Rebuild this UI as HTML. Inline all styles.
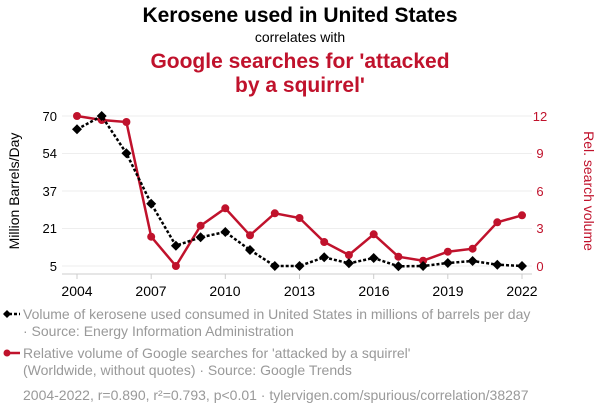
<!DOCTYPE html>
<html><head><style>
body{margin:0;width:600px;height:414px;background:#fff;font-family:"Liberation Sans",sans-serif;overflow:hidden}
</style></head><body>
<svg width="600" height="414" xmlns="http://www.w3.org/2000/svg" font-family="Liberation Sans, sans-serif">
<text x="300" y="22" text-anchor="middle" font-size="21" font-weight="bold" fill="#000">Kerosene used in United States</text>
<text x="300" y="42" text-anchor="middle" font-size="14" fill="#000">correlates with</text>
<text x="300" y="68" text-anchor="middle" font-size="21" font-weight="bold" fill="#c0122c">Google searches for 'attacked</text>
<text x="300" y="92" text-anchor="middle" font-size="21" font-weight="bold" fill="#c0122c">by a squirrel'</text>
<g stroke="#eee" stroke-width="1">
<line x1="62" x2="532" y1="116" y2="116"/><line x1="62" x2="532" y1="153.5" y2="153.5"/><line x1="62" x2="532" y1="191" y2="191"/><line x1="62" x2="532" y1="228.5" y2="228.5"/><line x1="62" x2="532" y1="266" y2="266"/>
</g>
<line x1="62" x2="532" y1="274" y2="274" stroke="#ccc"/>
<g stroke="#ccc"><line x1="77" x2="77" y1="274" y2="279"/><line x1="151.2" x2="151.2" y1="274" y2="279"/><line x1="225.3" x2="225.3" y1="274" y2="279"/><line x1="299.5" x2="299.5" y1="274" y2="279"/><line x1="373.7" x2="373.7" y1="274" y2="279"/><line x1="447.8" x2="447.8" y1="274" y2="279"/><line x1="522" x2="522" y1="274" y2="279"/></g>
<g font-size="14" text-anchor="middle" fill="#000"><text x="77" y="296">2004</text><text x="151" y="296">2007</text><text x="225" y="296">2010</text><text x="299.5" y="296">2013</text><text x="374" y="296">2016</text><text x="448" y="296">2019</text><text x="522" y="296">2022</text></g>
<g font-size="13" text-anchor="end" fill="#000"><text x="57" y="121">70</text><text x="57" y="158">54</text><text x="57" y="196">37</text><text x="57" y="233">21</text><text x="57" y="271">5</text></g>
<g font-size="13" text-anchor="middle" fill="#c0122c"><text x="540" y="121">12</text><text x="540" y="158">9</text><text x="540" y="196">6</text><text x="540" y="233">3</text><text x="540" y="271">0</text></g>
<text transform="translate(19,191) rotate(-90)" text-anchor="middle" font-size="14" fill="#000">Million Barrels/Day</text>
<text transform="translate(584,191) rotate(90)" text-anchor="middle" font-size="14" fill="#c0122c">Rel. search volume</text>
<polyline fill="none" stroke="#c0122c" stroke-width="2.5" points="77,116 101.7,120 126.4,122 151.2,236.7 175.9,266 200.6,225.7 225.3,208.3 250,235.3 274.8,213.3 299.5,218 324.2,242 348.9,255 373.7,234.3 398.4,256.7 423.1,260.7 447.8,251.7 472.6,248.7 497.3,222.3 522,215.3"/>
<g fill="#c0122c"><circle cx="77" cy="116" r="4"/><circle cx="101.7" cy="120" r="4"/><circle cx="126.4" cy="122" r="4"/><circle cx="151.2" cy="236.7" r="4"/><circle cx="175.9" cy="266" r="4"/><circle cx="200.6" cy="225.7" r="4"/><circle cx="225.3" cy="208.3" r="4"/><circle cx="250" cy="235.3" r="4"/><circle cx="274.8" cy="213.3" r="4"/><circle cx="299.5" cy="218" r="4"/><circle cx="324.2" cy="242" r="4"/><circle cx="348.9" cy="255" r="4"/><circle cx="373.7" cy="234.3" r="4"/><circle cx="398.4" cy="256.7" r="4"/><circle cx="423.1" cy="260.7" r="4"/><circle cx="447.8" cy="251.7" r="4"/><circle cx="472.6" cy="248.7" r="4"/><circle cx="497.3" cy="222.3" r="4"/><circle cx="522" cy="215.3" r="4"/></g>
<polyline fill="none" stroke="#000" stroke-width="2.5" stroke-dasharray="3,2" points="77,129.3 101.7,116 126.4,153.3 151.2,203.7 175.9,245.7 200.6,237.3 225.3,232 250,250 274.8,266 299.5,266 324.2,257.3 348.9,263.3 373.7,258 398.4,266.3 423.1,266 447.8,263 472.6,261 497.3,264.7 522,266"/>
<g fill="#000">
<path d="M77,124.3l5,5l-5,5l-5,-5z"/><path d="M101.7,111l5,5l-5,5l-5,-5z"/><path d="M126.4,148.3l5,5l-5,5l-5,-5z"/><path d="M151.2,198.7l5,5l-5,5l-5,-5z"/><path d="M175.9,240.7l5,5l-5,5l-5,-5z"/><path d="M200.6,232.3l5,5l-5,5l-5,-5z"/><path d="M225.3,227l5,5l-5,5l-5,-5z"/><path d="M250,245l5,5l-5,5l-5,-5z"/><path d="M274.8,261l5,5l-5,5l-5,-5z"/><path d="M299.5,261l5,5l-5,5l-5,-5z"/><path d="M324.2,252.3l5,5l-5,5l-5,-5z"/><path d="M348.9,258.3l5,5l-5,5l-5,-5z"/><path d="M373.7,253l5,5l-5,5l-5,-5z"/><path d="M398.4,261.3l5,5l-5,5l-5,-5z"/><path d="M423.1,261l5,5l-5,5l-5,-5z"/><path d="M447.8,258l5,5l-5,5l-5,-5z"/><path d="M472.6,256l5,5l-5,5l-5,-5z"/><path d="M497.3,259.7l5,5l-5,5l-5,-5z"/><path d="M522,261l5,5l-5,5l-5,-5z"/>
</g>
<line x1="4" x2="20" y1="314" y2="314" stroke="#000" stroke-width="2.5" stroke-dasharray="3,2"/>
<path d="M7,310l4,4l-4,4l-4,-4z" fill="#000"/>
<line x1="4" x2="20" y1="353" y2="353" stroke="#c0122c" stroke-width="2.5"/>
<circle cx="7" cy="353" r="3.5" fill="#c0122c"/>
<g font-size="14" fill="#999">
<text x="23" y="319">Volume of kerosene used consumed in United States in millions of barrels per day</text>
<text x="23" y="336">· Source: Energy Information Administration</text>
<text x="23" y="358">Relative volume of Google searches for 'attacked by a squirrel'</text>
<text x="23" y="375">(Worldwide, without quotes) · Source: Google Trends</text>
<text x="23" y="400">2004-2022, r=0.890, r²=0.793, p&lt;0.01 · tylervigen.com/spurious/correlation/38287</text>
</g>
</svg>
</body></html>
